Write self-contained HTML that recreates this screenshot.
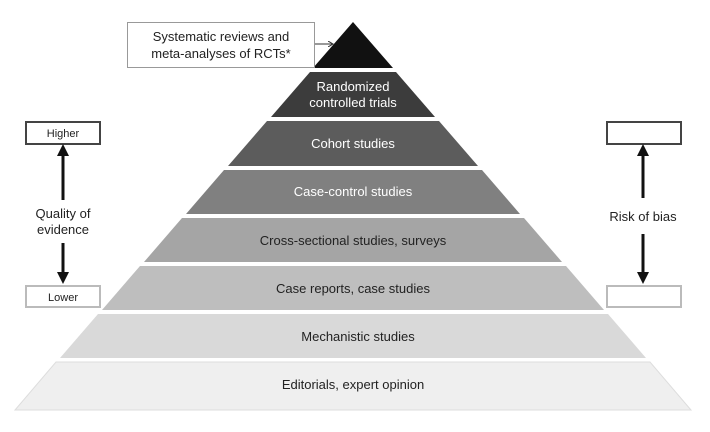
<!DOCTYPE html>
<html><head><style>body{margin:0;background:#fff}svg{display:block}text{font-family:"Liberation Sans",sans-serif}</style></head>
<body>
<svg width="710" height="432" viewBox="0 0 710 432">
<defs>
<marker id="a" markerWidth="6" markerHeight="6" refX="5" refY="3" orient="auto"><path d="M0,0 L5,3 L0,6" fill="none" stroke="#333" stroke-width="1"/></marker>
<marker id="b" markerWidth="4" markerHeight="4" refX="2" refY="2" orient="auto"><path d="M0,0 L4,2 L0,4 z" fill="#111"/></marker>
</defs>
<!-- pyramid -->
<polygon points="353,22 313,68 393,68" fill="#111"/>
<polygon points="310,72 396,72 435,117 271,117" fill="#3c3c3c"/>
<polygon points="267,121 439,121 478,166 228,166" fill="#5c5c5c"/>
<polygon points="224,170 482,170 520,214 186,214" fill="#808080"/>
<polygon points="182,218 524,218 562,262 144,262" fill="#a5a5a5"/>
<polygon points="140,266 566,266 604,310 102,310" fill="#bebebe"/>
<polygon points="98,314 608,314 646,358 60,358" fill="#d9d9d9"/>
<polygon points="56,362 650,362 691,410 15,410" fill="#efefef" stroke="#ddd" stroke-width="1"/>
<g font-size="13" text-anchor="middle">
<text x="353" y="91" fill="#fff">Randomized</text>
<text x="353" y="107" fill="#fff">controlled trials</text>
<text x="353" y="148" fill="#fff">Cohort studies</text>
<text x="353" y="196" fill="#fff">Case-control studies</text>
<text x="353" y="245" fill="#222">Cross-sectional studies, surveys</text>
<text x="353" y="293" fill="#222">Case reports, case studies</text>
<text x="358" y="341" fill="#222">Mechanistic studies</text>
<text x="353" y="389" fill="#222">Editorials, expert opinion</text>
</g>
<!-- top box -->
<rect x="127.5" y="22.5" width="187" height="45" fill="#fff" stroke="#999"/>
<g font-size="13" text-anchor="middle" fill="#222">
<text x="221" y="41">Systematic reviews and</text>
<text x="221" y="58">meta-analyses of RCTs*</text>
</g>
<line x1="315" y1="44" x2="333" y2="44" stroke="#333" stroke-width="1" marker-end="url(#a)"/>
<!-- left -->
<rect x="26" y="122" width="74" height="22" fill="#fff" stroke="#444" stroke-width="2"/>
<rect x="26" y="286" width="74" height="21" fill="#fff" stroke="#bbb" stroke-width="2"/>
<g font-size="11" text-anchor="middle" fill="#222">
<text x="63" y="137">Higher</text>
<text x="63" y="301">Lower</text>
<text x="643" y="137">Lower</text>
<text x="643" y="301">Higher</text>
</g>
<line x1="63" y1="200" x2="63" y2="150" stroke="#111" stroke-width="3" marker-end="url(#b)"/>
<line x1="63" y1="243" x2="63" y2="278" stroke="#111" stroke-width="3" marker-end="url(#b)"/>
<g font-size="13" text-anchor="middle" fill="#222">
<text x="63" y="218">Quality of</text>
<text x="63" y="234">evidence</text>
<text x="643" y="221">Risk of bias</text>
</g>
<!-- right -->
<rect x="607" y="122" width="74" height="22" fill="#fff" stroke="#444" stroke-width="2"/>
<rect x="607" y="286" width="74" height="21" fill="#fff" stroke="#bbb" stroke-width="2"/>
<line x1="643" y1="198" x2="643" y2="150" stroke="#111" stroke-width="3" marker-end="url(#b)"/>
<line x1="643" y1="234" x2="643" y2="278" stroke="#111" stroke-width="3" marker-end="url(#b)"/>
</svg>
</body></html>
